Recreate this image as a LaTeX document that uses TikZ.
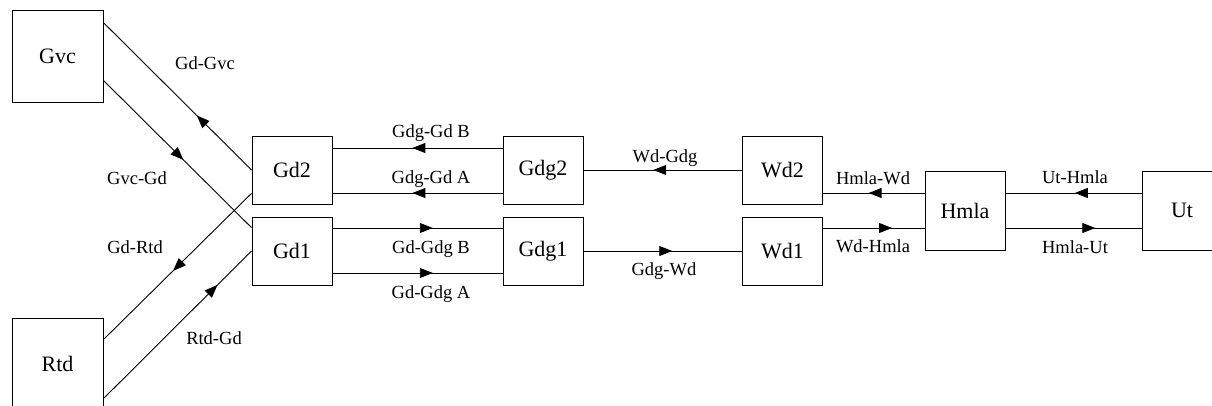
\documentclass[tikz,border=0pt]{standalone}
\usepackage{fontspec}
\setmainfont{Liberation Serif}
\usetikzlibrary{arrows.meta,decorations.markings}
\tikzset{
	blk/.style={draw,minimum width=80pt,minimum height=68pt,inner sep=0pt,font=\fontsize{22}{26}\selectfont},
	lbl/.style={anchor=base,inner sep=0pt,font=\fontsize{18.5}{22}\selectfont},
	midarrow/.style={postaction={decorate},decoration={markings,mark=at position #1 with {\arrow{Triangle[length=13pt,width=10pt]}}}},
	midarrow/.default=0.55
}
\begin{document}
\begin{tikzpicture}[x=1pt,y=-1pt,line width=0.9pt]
		\clip (0,0) rectangle (1212,406);
		\node[blk,minimum width=91pt,minimum height=92pt] (Gvc) at (57.5,56) {Gvc};
		\node[blk,minimum width=91pt,minimum height=92pt] (Rtd) at (57.5,364) {Rtd};
		\node[blk] (Gd2) at (292,170) {Gd2};
		\node[blk] (Gd1) at (292,251) {Gd1};
		\node[blk] (Gdg2) at (543,170) {Gdg2};
		\node[blk] (Gdg1) at (543,251) {Gdg1};
		\node[blk] (Wd2) at (782.5,170) {Wd2};
		\node[blk] (Wd1) at (782.5,251) {Wd1};
		\node[blk,minimum height=79pt] (Hmla) at (965,210.5) {Hmla};
		\node[blk,minimum height=79pt] (Ut) at (1182,210.5) {Ut};
		
		% Gd <-> Gvc, Rtd
		\draw[midarrow=0.37] (Gd2.west) -- (Gvc.36);
		\draw[midarrow=0.54] (Gvc.-28) -- (Gd1.150);
		\draw[midarrow=0.53] (Gd2.210) -- (Rtd.28);
		\draw[midarrow=0.77] (Rtd.-37) -- (Gd1.west);
		
		% Gd <-> Gdg
		\draw[midarrow=0.53] ([yshift=22pt]Gdg2.west) -- ([yshift=22pt]Gd2.east);
		\draw[midarrow=0.53] ([yshift=-23pt]Gdg2.west) -- ([yshift=-23pt]Gd2.east);
		\draw[midarrow=0.59] ([yshift=23pt]Gd1.east) -- ([yshift=23pt]Gdg1.west);
		\draw[midarrow=0.59] ([yshift=-22pt]Gd1.east) -- ([yshift=-22pt]Gdg1.west);
		
		% Gdg <-> Wd
		\draw[midarrow=0.56] (Wd2.west) -- (Gdg2.east);
		\draw[midarrow=0.56] (Gdg1.east) -- (Wd1.west);
		
		% Wd <-> Hmla <-> Ut
		\draw[midarrow=0.55] ([yshift=17.5pt]Hmla.west) -- ([yshift=17.5pt]Hmla.west -| Wd2.east);
		\draw[midarrow=0.68] ([yshift=-17.5pt]Hmla.west -| Wd1.east) -- ([yshift=-17.5pt]Hmla.west);
		\draw[midarrow=0.49] ([yshift=17.5pt]Ut.west) -- ([yshift=17.5pt]Hmla.east);
		\draw[midarrow=0.66] ([yshift=-17.5pt]Hmla.east) -- ([yshift=-17.5pt]Ut.west);
		
		\node[lbl] (lGdGvc) at (205,70) {Gd-Gvc};
		\node[lbl] (lGvcGd) at (137,185) {Gvc-Gd};
		\node[lbl] (lGdRtd) at (135,253) {Gd-Rtd};
		\node[lbl] (lRtdGd) at (214,344) {Rtd-Gd};
		\node[lbl] (lGdgGdB) at (431,138) {Gdg-Gd B};
		\node[lbl] (lGdgGdA) at (431,184) {Gdg-Gd A};
		\node[lbl] (lGdGdgB) at (431,253) {Gd-Gdg B};
		\node[lbl] (lGdGdgA) at (431,298) {Gd-Gdg A};
		\node[lbl] (lWdGdg) at (665,163) {Wd-Gdg};
		\node[lbl] (lGdgWd) at (664,275) {Gdg-Wd};
		\node[lbl] (lHmlaWd) at (873,185) {Hmla-Wd};
		\node[lbl] (lWdHmla) at (873,252) {Wd-Hmla};
		\node[lbl] (lUtHmla) at (1075,184) {Ut-Hmla};
		\node[lbl] (lHmlaUt) at (1075,253) {Hmla-Ut};
	\end{tikzpicture}
\end{document}
